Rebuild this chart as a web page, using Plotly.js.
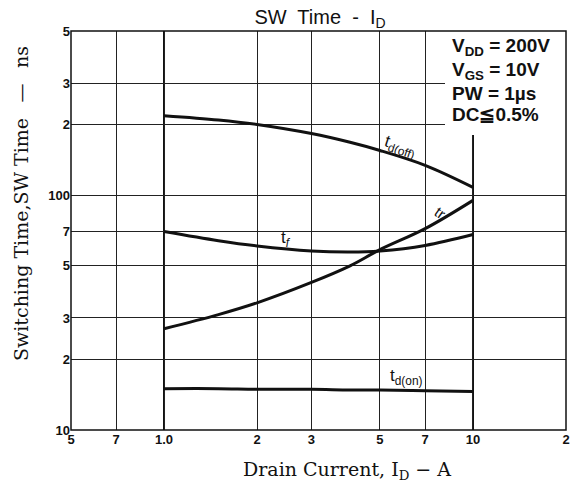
<!DOCTYPE html>
<html>
<head>
<meta charset="utf-8">
<script src="https://cdn.plot.ly/plotly-3.0.1.min.js"></script>
<style>html,body{margin:0;padding:0;background:#fff;}</style>
</head>
<body>
<div id="chart" style="width:576px;height:488px;"></div>
<script>
// Drain current (A)
const drainCurrent = [1, 1.5, 2, 3, 4, 5, 7, 10];
// Switching times (ns)
const tdOff = [218, 209, 200, 183, 168, 155, 134, 108];
const tf    = [70, 64, 60.8, 57.9, 57.3, 57.9, 61.1, 68];
const tr    = [27, 31, 34.8, 42.5, 50, 58.6, 72, 95];
const tdOn  = [15, 15, 14.9, 14.9, 14.8, 14.8, 14.7, 14.6];

const xTickVals = [0.5, 0.7, 1, 2, 3, 5, 7, 10, 20];
const xTickText = ["5", "7", "1.0", "2", "3", "5", "7", "10", "2"];
const yTickVals = [10, 20, 30, 50, 70, 100, 200, 300, 500];
const yTickText = ["10", "2", "3", "5", "7", "100", "2", "3", "5"];

const conditions = ["V<sub>DD</sub> = 200V", "V<sub>GS</sub> = 10V", "PW = 1\u00b5s", "DC\u22660.5%"];

const L = 71, R = 10, T = 31, B = 58, W = 576 - L - R, H = 488 - T - B;
const px = x => (x - L) / W;
const py = y => (488 - B - y) / H;

const lineStyle = {color: '#111', width: 3, shape: 'spline', smoothing: 1};
const traces = [
  {x: drainCurrent, y: tdOff, mode: 'lines', line: lineStyle, hoverinfo: 'skip'},
  {x: drainCurrent, y: tf, mode: 'lines', line: lineStyle, hoverinfo: 'skip'},
  {x: drainCurrent, y: tr, mode: 'lines', line: lineStyle, hoverinfo: 'skip'},
  {x: drainCurrent, y: tdOn, mode: 'lines', line: lineStyle, hoverinfo: 'skip'}
];

const sans = 'Liberation Sans, Arial, sans-serif';
const serif = 'DejaVu Serif, serif';

function ann(text, x, y, opts) {
  return Object.assign({text: text, xref: 'paper', yref: 'paper', x: px(x), y: py(y),
    xanchor: 'center', yanchor: 'middle', showarrow: false}, opts);
}

const annotations = [
  ann('Switching Time,SW Time \u2002\u2014\u2002 ns', 21, 204,
      {textangle: -90, font: {family: serif, size: 19, color: '#111'}}),
  ann('Drain Current, I<sub>D</sub> \u2212 A', 347, 470,
      {font: {family: serif, size: 19, color: '#111'}}),
  ann('t<sub>d(off)</sub>', 400, 147, {textangle: 18, font: {family: sans, size: 17, color: '#111'}}),
  ann('tr', 440, 212, {textangle: 35, font: {family: sans, size: 15, color: '#111'}}),
  ann('t<sub><i>f</i></sub>', 286, 239, {font: {family: sans, size: 17, color: '#111'}}),
  ann('t<sub>d(on)</sub>', 406, 377, {font: {family: sans, size: 17, color: '#111'}})
];
const condY = [47, 71, 93, 114];
conditions.forEach((c, i) => annotations.push(
  ann('<b>' + c + '</b>', 450, condY[i], {xanchor: 'left', font: {family: sans, size: 19, color: '#111'}})
));

const shapes = [
  {type: 'line', xref: 'x', yref: 'paper', x0: 1, x1: 1, y0: 0, y1: 1, layer: 'between', line: {color: '#111', width: 2}},
  {type: 'line', xref: 'x', yref: 'paper', x0: 10, x1: 10, y0: 0, y1: 1, layer: 'between', line: {color: '#111', width: 2}},
  {type: 'rect', xref: 'paper', yref: 'paper', x0: px(445), x1: 1, y0: py(135), y1: 1, layer: 'above',
   fillcolor: '#fff', line: {width: 0}},
  {type: 'rect', xref: 'paper', yref: 'paper', x0: 0, x1: 1, y0: 0, y1: 1, layer: 'above',
   fillcolor: 'rgba(0,0,0,0)', line: {color: '#111', width: 1.5}}
];

const layout = {
  width: 576, height: 488,
  margin: {l: L, r: R, t: T, b: B, pad: 0},
  paper_bgcolor: '#fff', plot_bgcolor: '#fff',
  showlegend: false,
  title: {text: 'SW  Time  -  I<sub>D</sub>', x: px(320), xref: 'paper', xanchor: 'center',
          y: 1 - 17 / 488, yanchor: 'middle', font: {family: sans, size: 20, color: '#111'}},
  xaxis: {type: 'log', range: [Math.log10(0.5), Math.log10(20)], tickvals: xTickVals, ticktext: xTickText,
          showgrid: true, gridcolor: '#222', gridwidth: 1, zeroline: false, showline: false, ticks: '',
          tickfont: {family: sans, size: 13, color: '#111', weight: 'bold'}},
  yaxis: {type: 'log', range: [1, Math.log10(500)], tickvals: yTickVals, ticktext: yTickText,
          showgrid: true, gridcolor: '#222', gridwidth: 1, zeroline: false, showline: false, ticks: '',
          tickfont: {family: sans, size: 13, color: '#111', weight: 'bold'}},
  annotations: annotations,
  shapes: shapes
};

Plotly.newPlot('chart', traces, layout, {staticPlot: true, displayModeBar: false});
</script>
</body>
</html>
